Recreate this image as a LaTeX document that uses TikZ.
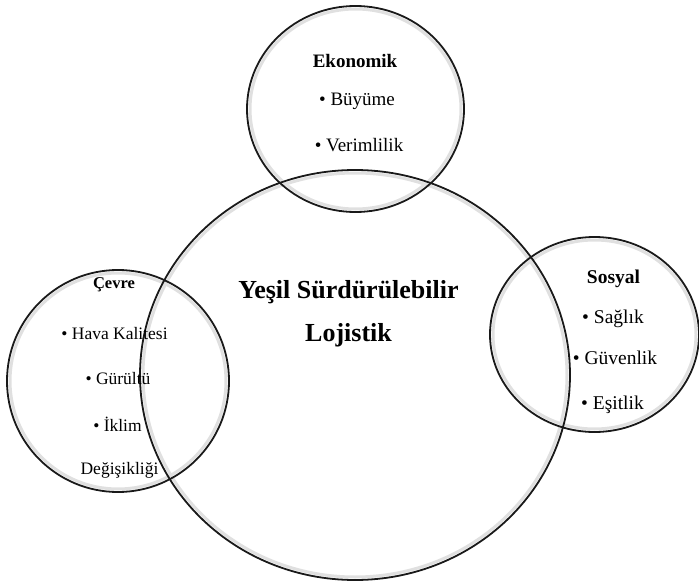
\documentclass[tikz,border=0pt]{standalone}
\usepackage{fontspec}
\setmainfont{Liberation Serif}
\usetikzlibrary{shapes.geometric}
\begin{document}
\begin{tikzpicture}[x=1pt,y=-1pt,
  ring/.style={ellipse,draw=black!90,line width=1.8pt,inner sep=0pt},
  glow/.style={ellipse,draw=black!12,line width=3pt,inner sep=0pt},
  lbl/.style={inner sep=0pt,anchor=base},
  ekotxt/.style={lbl,font=\fontsize{19}{22}\selectfont},
  cevtxt/.style={lbl,font=\fontsize{17.5}{21}\selectfont},
  sostxt/.style={lbl,font=\fontsize{19.5}{23}\selectfont},
  titletxt/.style={lbl,font=\fontsize{26}{30}\selectfont\bfseries}]
\useasboundingbox (0,0) rectangle (699,586);
% soft inner edges
\node[glow,minimum width=424pt,minimum height=404pt] (coreg) at (355,375) {};
\node[glow,minimum width=211pt,minimum height=200pt] (ekog) at (355.5,109) {};
\node[glow,minimum width=216pt,minimum height=216pt] (cevg) at (118,381) {};
\node[glow,minimum width=203pt,minimum height=189pt] (sosg) at (594.5,334.5) {};
% circles
\node[ring,minimum width=430pt,minimum height=410pt] (core) at (355,375) {};
\node[ring,minimum width=217pt,minimum height=206pt] (eko) at (355.5,109) {};
\node[ring,minimum width=222pt,minimum height=222pt] (cev) at (118,381) {};
\node[ring,minimum width=209pt,minimum height=195pt] (sos) at (594.5,334.5) {};
% core title
\node[titletxt] (t1) at (348.5,298.5) {Yeşil Sürdürülebilir};
\node[titletxt] (t2) at (348.5,341.5) {Lojistik};
% Ekonomik
\node[ekotxt,font=\fontsize{19}{22}\selectfont\bfseries] (e0) at (355,68) {Ekonomik};
\node[ekotxt] (e1) at (357,106) {• Büyüme};
\node[ekotxt] (e2) at (359,151) {• Verimlilik};
% Cevre
\node[cevtxt,font=\fontsize{16.5}{20}\selectfont\bfseries] (c0) at (114,288.5) {Çevre};
\node[cevtxt] (c1) at (114.5,339) {• Hava Kalitesi};
\node[cevtxt] (c2) at (118,384) {• Gürültü};
\node[cevtxt] (c3) at (117.5,431) {• İklim};
\node[cevtxt] (c4) at (119.5,474) {Değişikliği};
% Sosyal
\node[sostxt,font=\fontsize{19.5}{23}\selectfont\bfseries] (s0) at (613.5,283.5) {Sosyal};
\node[sostxt] (s1) at (613,323.5) {• Sağlık};
\node[sostxt] (s2) at (615,364.5) {• Güvenlik};
\node[sostxt] (s3) at (612.5,409.5) {• Eşitlik};
\end{tikzpicture}
\end{document}
